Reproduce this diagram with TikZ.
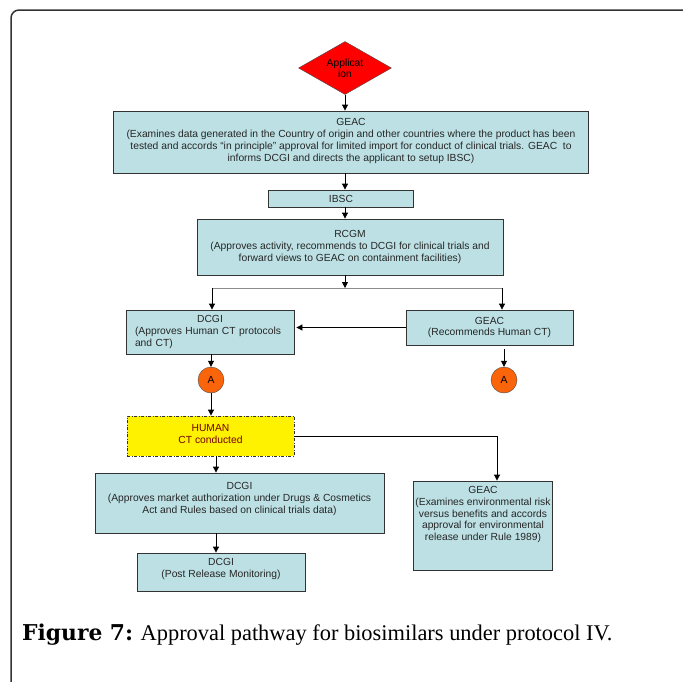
\documentclass[tikz,border=0pt]{standalone}
\usepackage{fontspec}
\setmainfont{Liberation Serif}
\setsansfont{Liberation Sans}
\newfontfamily\capbold{DejaVu Serif}
\usepackage{tikz}
\usetikzlibrary{arrows.meta, shapes.geometric}
\definecolor{boxfill}{RGB}{188,224,228}
\definecolor{aorange}{RGB}{250,100,10}

\begin{document}
\begin{tikzpicture}[x=1pt,y=-1pt,
  box/.style={draw=black!80,line width=0.8pt,fill=boxfill,align=center,
    font=\sffamily\fontsize{10.3}{11.8}\selectfont,text=black!85,inner sep=2pt},
  flow/.style={-{Triangle[length=6pt,width=6pt]},line width=0.8pt},
  acirc/.style={circle,draw=black!70,fill=aorange,minimum size=26pt,inner sep=0pt,
    font=\sffamily\fontsize{10.3}{11}\selectfont}]
  \useasboundingbox (0,0) rectangle (683,681);
  % Frame
  \draw[black!80,line width=1.5pt,rounded corners=8pt] (11,683) -- (11,10) -- (683,10);
  % Start
  \node[diamond,draw=black!70,fill=red,aspect=1.75,minimum width=93pt,minimum height=53pt,
    inner sep=0pt,align=center,font=\sffamily\fontsize{10.3}{11}\selectfont] (app) at (345,68) {Applicat\\ion};
  % Upper chain
  \node[box,minimum width=475pt,minimum height=62pt,text depth=4pt] (geaca) at (351,142)
    {GEAC\\(Examines data generated in the Country of origin and other countries where the product has been\\
     tested and accords “in principle” approval for limited import for conduct of clinical trials. GEAC\ \ to\\
     informs DCGI and directs the applicant to setup IBSC)};
  \node[box,minimum width=145pt,minimum height=17pt] (ibsc) at (341,198.5) {IBSC};
  \node[box,minimum width=306pt,minimum height=56pt] (rcgm) at (350,247)
    {RCGM\\(Approves activity, recommends to DCGI for clinical trials and\\forward views to GEAC on containment facilities)};
  % Split
  \node[box,text width=150pt,inner xsep=9pt,minimum height=44pt,align=left] (dcgia) at (210,332)
    {\makebox[150pt]{DCGI}\\(Approves Human CT protocols\\and CT)};
  \node[box,minimum width=167pt,minimum height=35pt] (geacb) at (489.5,327.5) {GEAC\\(Recommends Human CT)};
  \node[acirc] (aleft) at (211,380) {A};
  \node[acirc] (aright) at (504,380) {A};
  % Trials
  \node[box,fill=yellow,dash pattern=on 3pt off 1.5pt on 1pt off 1.5pt,text=red!45!black,
    minimum width=167pt,minimum height=40pt,text depth=4pt] (human) at (210.5,436) {HUMAN\\CT conducted};
  \node[box,minimum width=289pt,minimum height=60pt,text depth=10pt] (dcgib) at (239.5,503)
    {DCGI\\(Approves market authorization under Drugs \& Cosmetics\\Act and Rules based on clinical trials data)};
  \node[box,minimum width=138pt,minimum height=89pt,text depth=24pt] (geacc) at (483,525.5)
    {GEAC\\(Examines environmental risk\\versus benefits and accords\\approval for environmental\\release under Rule 1989)};
  \node[box,minimum width=168pt,minimum height=38pt,text depth=9pt] (dcgic) at (221,572) {DCGI\\(Post Release Monitoring)};
  % Connectors
  \coordinate (spine) at (345,0);
  \coordinate (split) at (345,288);
  \coordinate (splitl) at (212,288);
  \coordinate (splitr) at (502,288);
  \coordinate (lower) at (216,0);
  \draw[flow] (app.south) -- (spine |- geaca.north);
  \draw[flow] (spine |- geaca.south) -- (spine |- ibsc.north);
  \draw[flow] (spine |- ibsc.south) -- (spine |- rcgm.north);
  \draw[flow] (spine |- rcgm.south) -- (split);
  \draw[black!45,line width=0.8pt] (splitl) -- (splitr);
  \draw[flow] (splitl) -- (splitl |- dcgia.north);
  \draw[flow] (splitr) -- (splitr |- geacb.north);
  \draw[flow] (geacb.west) -- ([xshift=2pt]dcgia.east |- geacb.west);
  \draw[flow] (dcgia.south -| aleft) -- (aleft.north);
  \draw[flow] ([yshift=-4pt]geacb.south -| aright) -- (aright.north);
  \draw[flow] (aleft.south) -- (aleft.south |- human.north);
  \draw[flow] (lower |- human.south) -- (lower |- dcgib.north);
  \draw[flow] (lower |- dcgib.south) -- (lower |- dcgic.north);
  \draw[flow] (human.east) -| ([xshift=14pt]geacc.north);
  % Caption
  \node[anchor=base west,inner sep=0pt,font=\fontsize{22.4}{26}\selectfont] (caption) at (22,640)
    {{\capbold\fontsize{21.8}{26}\selectfont\bfseries Figure 7:} Approval pathway for biosimilars under protocol IV.};
\end{tikzpicture}
\end{document}
